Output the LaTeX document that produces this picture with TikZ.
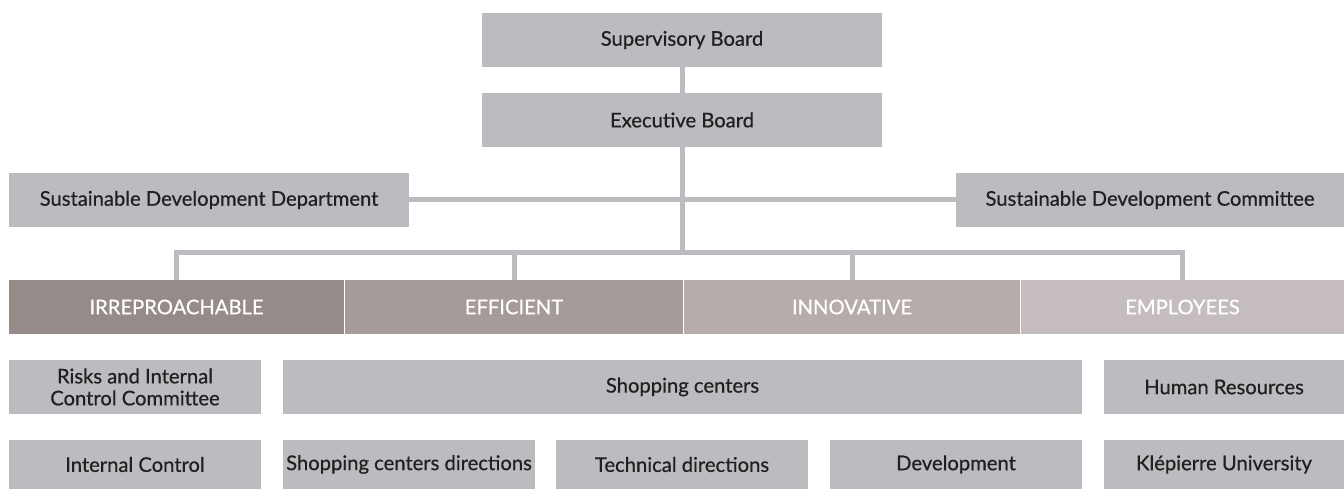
\documentclass[tikz,border=0pt]{standalone}
\usepackage{fontspec}
\setmainfont{Lato}[FakeBold=0.6]
\usepackage{tikz}
\usetikzlibrary{positioning,calc}
\definecolor{BoxGray}{HTML}{BBBCC0}
\definecolor{InkDark}{HTML}{231F20}
\definecolor{PillarA}{HTML}{958B88}
\definecolor{PillarB}{HTML}{A59C9A}
\definecolor{PillarC}{HTML}{B5ACAB}
\definecolor{PillarD}{HTML}{C5BCBD}

\begin{document}
\begin{tikzpicture}[
    x=0.02cm, y=-0.02cm,
    font=\fontsize{11.5}{12.5}\selectfont,
    unit/.style={rectangle, fill=BoxGray, text=InkDark, align=center, inner sep=0pt, minimum height=1.08cm},
    pillar/.style={rectangle, text=white, align=center, inner sep=0pt, minimum height=1.08cm},
    link/.style={draw=BoxGray, line width=0.1cm}
]
\useasboundingbox (0,0) rectangle (1344,489);

% governance
\node[unit, minimum width=8cm] (sup) at (682,40) {Supervisory Board};
\node[unit, minimum width=8cm] (exe) at (682,120) {Executive Board};
\node[unit, minimum width=8cm] (sdd) at (209,200) {Sustainable Development Department};
\node[unit, minimum width=7.76cm] (sdc) at (1150,200) {Sustainable Development Committee};
\coordinate (bus) at (682,253);

% pillars
\node[pillar, fill=PillarA, minimum width=6.7cm] (irr) at (176.5,307) {IRREPROACHABLE};
\node[pillar, fill=PillarB, minimum width=6.76cm] (eff) at (514,307) {EFFICIENT};
\node[pillar, fill=PillarC, minimum width=6.72cm] (inn) at (852,307) {INNOVATIVE};
\node[pillar, fill=PillarD, minimum width=6.46cm] (emp) at (1182.5,307) {EMPLOYEES};

% departments
\node[unit, minimum width=5.04cm] (risk) at (135,387) {Risks and Internal\\Control Committee};
\node[unit, minimum width=15.98cm] (shop) at (682.5,387) {Shopping centers};
\node[unit, minimum width=4.8cm] (hr) at (1224,387) {Human Resources};
\node[unit, minimum width=5.04cm, minimum height=0.98cm] (ic) at (135,464.5) {Internal Control};
\node[unit, minimum width=5.04cm, minimum height=0.98cm] (scd) at (409,464.5) {Shopping centers directions};
\node[unit, minimum width=5.04cm, minimum height=0.98cm] (tech) at (682,464.5) {Technical directions};
\node[unit, minimum width=5.04cm, minimum height=0.98cm] (dev) at (956,464.5) {Development};
\node[unit, minimum width=4.8cm, minimum height=0.98cm] (ku) at (1224,464.5) {Klépierre University};

\draw[link] (sup) -- (exe);
\draw[link] (sdd) -- (sdc);
\draw[link] (exe) -- (bus);
\draw[link] (irr.north) |- (bus) -| (emp.north);
\draw[link] (eff.north) -- (eff.north |- bus);
\draw[link] (inn.north) -- (inn.north |- bus);
\end{tikzpicture}
\end{document}
